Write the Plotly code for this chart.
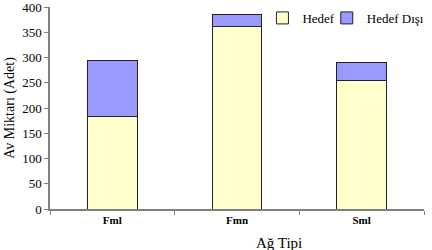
import plotly.graph_objects as go

categories = ["Fml", "Fmn", "Sml"]
hedef = [184, 362, 254]
hedef_disi = [110, 24, 36]
y_ticks = [0, 50, 100, 150, 200, 250, 300, 350, 400]

fig = go.Figure()
fig.add_trace(go.Bar(x=categories, y=hedef, name="Hedef", legend="legend",
                     marker=dict(color="#FFFFCC", line=dict(color="#222222", width=1))))
fig.add_trace(go.Bar(x=categories, y=hedef_disi, name="Hedef Dışı", legend="legend2",
                     marker=dict(color="#9999FF", line=dict(color="#222222", width=1))))

leg_common = dict(orientation="h", yanchor="top", xanchor="left",
                  font=dict(size=13, family="Liberation Serif", color="black"),
                  bgcolor="rgba(0,0,0,0)", itemwidth=30, borderwidth=0)

fig.update_layout(
    width=432, height=250,
    margin=dict(l=50, r=8, t=7, b=41, autoexpand=False),
    barmode="stack", bargap=0.6,
    plot_bgcolor="white", paper_bgcolor="white",
    font=dict(family="Liberation Serif", color="black"),
    showlegend=True,
    legend=dict(x=0.568, y=1.02, entrywidth=45, **leg_common),
    legend2=dict(x=0.74, y=1.02, entrywidth=70, **leg_common),
    xaxis=dict(showline=True, linecolor="#808080", linewidth=1.5,
               ticks="outside", tickson="boundaries", ticklen=4, tickcolor="#808080",
               tickfont=dict(size=11, family="Liberation Serif"),
               tickprefix="<b>", ticksuffix="</b>"),
    yaxis=dict(range=[0, 400], tickvals=y_ticks, showline=True, linecolor="#808080", linewidth=1.5,
               ticks="outside", ticklen=4, tickcolor="#808080", showgrid=False, zeroline=False,
               ticklabeloverflow="allow",
               tickfont=dict(size=13, family="Liberation Serif"),
               title=dict(text="Av Miktarı (Adet)", font=dict(size=14, family="Liberation Serif"), standoff=4)),
    annotations=[dict(text="Ağ Tipi", x=0.68, y=0, xref="paper", yref="paper",
                      yshift=-34, showarrow=False, yanchor="middle",
                      font=dict(size=15, family="Liberation Serif"))],
)

fig.write_html("out.html")
